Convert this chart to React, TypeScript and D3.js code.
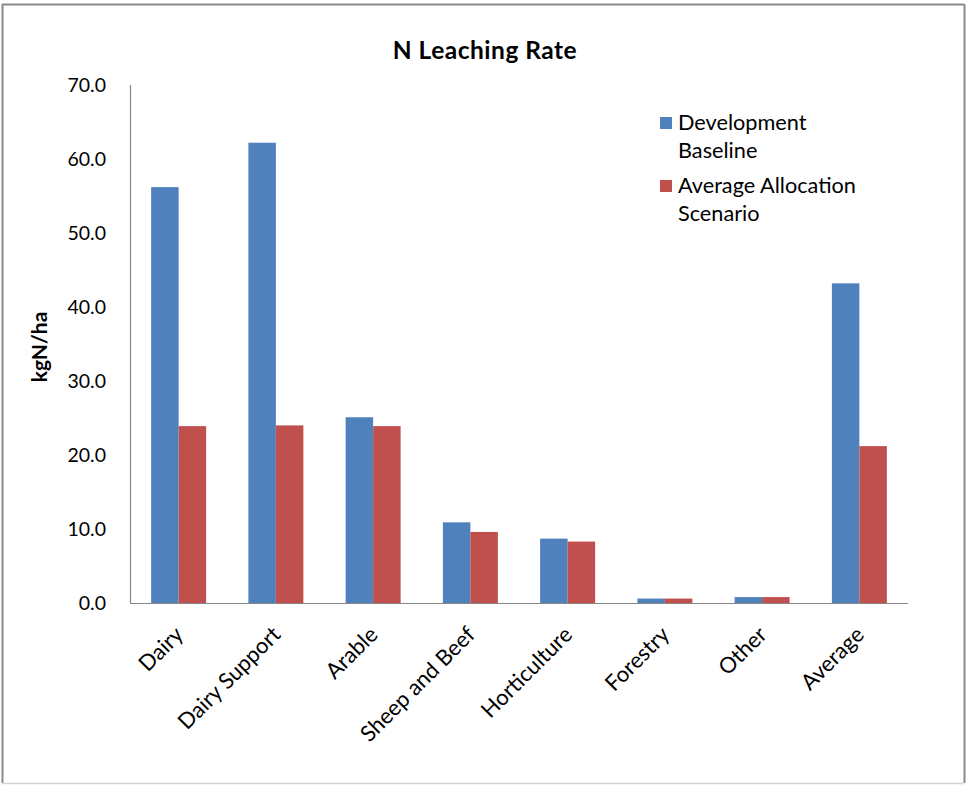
import React from "react";
import * as d3 from "d3";

const categories = [
  "Dairy",
  "Dairy Support",
  "Arable",
  "Sheep and Beef",
  "Horticulture",
  "Forestry",
  "Other",
  "Average",
];
const seriesNames = ["Development Baseline", "Average Allocation Scenario"];
const developmentBaseline = [56.2, 62.2, 25.1, 10.9, 8.7, 0.6, 0.8, 43.2];
const averageAllocation = [23.9, 24.0, 23.9, 9.6, 8.3, 0.6, 0.8, 21.2];
const yTicks = [0, 10, 20, 30, 40, 50, 60, 70];
const seriesColors = ["#4F81BD", "#C0504D"];

const W = 966;
const H = 785;
const plot = { left: 130, right: 908, top: 85, bottom: 603 };
const FONT = "Lato, 'Open Sans', sans-serif";

export default function App() {
  const x = d3
    .scaleBand<string>()
    .domain(categories)
    .range([plot.left, plot.right])
    .paddingInner(0.4345)
    .paddingOuter(0.21725);
  const xs = d3
    .scaleBand<number>()
    .domain([0, 1])
    .range([0, x.bandwidth()]);
  const y = d3.scaleLinear().domain([0, 70]).range([plot.bottom, plot.top]);
  const series = [developmentBaseline, averageAllocation];
  const fmt = d3.format(".1f");

  return (
    <svg
      width={W}
      height={H}
      style={{ position: "absolute", left: 0, top: 0, fontFamily: FONT }}
    >
      <rect x={0} y={0} width={W} height={H} fill="#fff" />
      {/* chart frame */}
      <line x1={2.5} y1={4} x2={2.5} y2={783} stroke="#8a8a8a" strokeWidth={2} />
      <line x1={2} y1={4.5} x2={964} y2={4.5} stroke="#8a8a8a" strokeWidth={2} />
      <line x1={964.5} y1={4} x2={964.5} y2={783} stroke="#8a8a8a" strokeWidth={2} />
      <line x1={2} y1={783.5} x2={964} y2={783.5} stroke="#d4d4d4" strokeWidth={1.5} />

      <text
        x={485}
        y={59}
        textAnchor="middle"
        fontSize={24.5}
        letterSpacing={0.5}
        fontWeight="bold"
        fill="#000"
      >
        N Leaching Rate
      </text>

      {/* bars */}
      {categories.map((c, i) => (
        <g key={c} transform={`translate(${x(c)},0)`}>
          {series.map((s, k) => (
            <rect
              key={k}
              x={xs(k)}
              y={y(s[i])}
              width={xs.bandwidth()}
              height={y(0) - y(s[i])}
              fill={seriesColors[k]}
            />
          ))}
        </g>
      ))}

      {/* axes */}
      <line
        x1={plot.left + 0.5}
        y1={plot.top}
        x2={plot.left + 0.5}
        y2={plot.bottom}
        stroke="#868686"
        strokeWidth={1.2}
      />
      <line
        x1={plot.left}
        y1={plot.bottom + 0.5}
        x2={plot.right}
        y2={plot.bottom + 0.5}
        stroke="#868686"
        strokeWidth={1.2}
      />
      {yTicks.map((t) => (
        <text
          key={t}
          x={106}
          y={y(t)}
          dy="0.36em"
          textAnchor="end"
          fontSize={19.5}
          fill="#000"
        >
          {fmt(t)}
        </text>
      ))}
      <text
        transform={`translate(47,347) rotate(-90)`}
        textAnchor="middle"
        fontSize={21}
        fontWeight="bold"
        fill="#000"
      >
        kgN/ha
      </text>

      {categories.map((c) => {
        const cx = (x(c) as number) + x.bandwidth() / 2;
        return (
          <text
            key={c}
            transform={`translate(${cx + 6},${plot.bottom + 33}) rotate(-45)`}
            textAnchor="end"
            fontSize={22}
            fill="#000"
          >
            {c}
          </text>
        );
      })}

      {/* legend */}
      {seriesNames.map((name, k) => {
        const top = 117 + k * 63;
        const words = name.split(" ");
        const lines = k === 0 ? [words[0], words[1]] : [words.slice(0, 2).join(" "), words[2]];
        return (
          <g key={name}>
            <rect x={660} y={top} width={12} height={12} fill={seriesColors[k]} />
            {lines.map((ln, j) => (
              <text key={j} x={678} y={top + 13 + j * 28} fontSize={21.7} fill="#000">
                {ln}
              </text>
            ))}
          </g>
        );
      })}
    </svg>
  );
}
